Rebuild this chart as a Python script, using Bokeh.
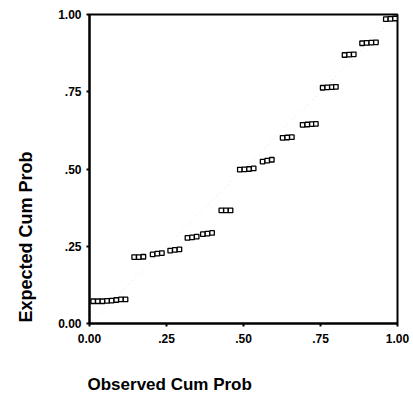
from bokeh.plotting import figure
from bokeh.models import FixedTicker, Range1d, Title
from bokeh.embed import file_html
from bokeh.resources import INLINE

# Observed vs expected cumulative probabilities
observed = [
    0.012, 0.027, 0.042, 0.057, 0.072, 0.087, 0.102, 0.117,
    0.145, 0.160, 0.175, 0.205, 0.220, 0.235, 0.262, 0.277, 0.292,
    0.318, 0.333, 0.348, 0.368, 0.383, 0.398,
    0.428, 0.443, 0.458,
    0.488, 0.503, 0.518, 0.533, 0.562, 0.577, 0.592,
    0.627, 0.642, 0.657,
    0.692, 0.707, 0.722, 0.735,
    0.757, 0.772, 0.787, 0.800,
    0.828, 0.843, 0.858,
    0.885, 0.900, 0.915, 0.930,
    0.962, 0.977, 0.992,
]
expected = [
    0.072, 0.072, 0.072, 0.073, 0.074, 0.076, 0.078, 0.078,
    0.215, 0.215, 0.216, 0.224, 0.226, 0.228, 0.236, 0.238, 0.240,
    0.277, 0.279, 0.281, 0.289, 0.291, 0.293,
    0.366, 0.366, 0.366,
    0.498, 0.499, 0.500, 0.502, 0.524, 0.527, 0.530,
    0.601, 0.602, 0.603,
    0.643, 0.644, 0.645, 0.646,
    0.763, 0.764, 0.765, 0.766,
    0.869, 0.870, 0.871,
    0.907, 0.908, 0.909, 0.910,
    0.985, 0.986, 0.987,
]
ref_line = [0.0, 1.0]
tick_values = [0.0, 0.25, 0.5, 0.75, 1.0]
tick_labels = ["0.00", ".25", ".50", ".75", "1.00"]
x_title = "Observed Cum Prob"
y_title = "Expected Cum Prob"

FONT = "Liberation Sans"

p = figure(width=413, height=396, output_backend="svg", toolbar_location=None,
           x_range=Range1d(0, 1), y_range=Range1d(0, 1),
           min_border_left=89, min_border_right=16, min_border_top=14, min_border_bottom=73)
p.background_fill_color = "white"
p.border_fill_color = "white"
p.outline_line_color = "black"
p.outline_line_width = 2
p.xgrid.visible = False
p.ygrid.visible = False

# faint diagonal reference line
p.line(ref_line, ref_line, line_color="#e2e2e2", line_width=1, line_dash="1 3")

p.scatter(observed, expected, marker="square", size=4.5,
          fill_color="white", line_color="black", line_width=1.3)

for ax in (p.xaxis[0], p.yaxis[0]):
    ax.ticker = FixedTicker(ticks=tick_values)
    ax.major_label_overrides = {v: l for v, l in zip(tick_values, tick_labels)}
    ax.major_label_text_font = FONT
    ax.major_label_text_font_style = "bold"
    ax.major_label_text_font_size = "12px"
    ax.major_label_text_color = "black"
    ax.axis_line_color = "black"
    ax.axis_line_width = 2
    ax.major_tick_line_color = "black"
    ax.major_tick_line_width = 2
    ax.major_tick_in = 0
    ax.major_tick_out = 3
    ax.minor_tick_line_color = None
    # blank axis label used only as spacing between tick labels and the title
    ax.axis_label = " "
    ax.axis_label_text_font_size = "1px"
    ax.axis_label_text_color = "white"

p.xaxis[0].major_label_standoff = 7
p.yaxis[0].major_label_standoff = 5
p.xaxis[0].axis_label_standoff = 21
p.yaxis[0].axis_label_standoff = 14

xt = Title(text=x_title, align="left", offset=-2, standoff=4,
           text_font=FONT, text_font_style="bold", text_font_size="17px",
           text_color="black")
p.add_layout(xt, "below")
yt = Title(text=y_title, align="left", offset=1, standoff=4,
           text_font=FONT, text_font_style="bold", text_font_size="18px",
           text_color="black")
p.add_layout(yt, "left")

open("out.html", "w").write(file_html(p, INLINE))
